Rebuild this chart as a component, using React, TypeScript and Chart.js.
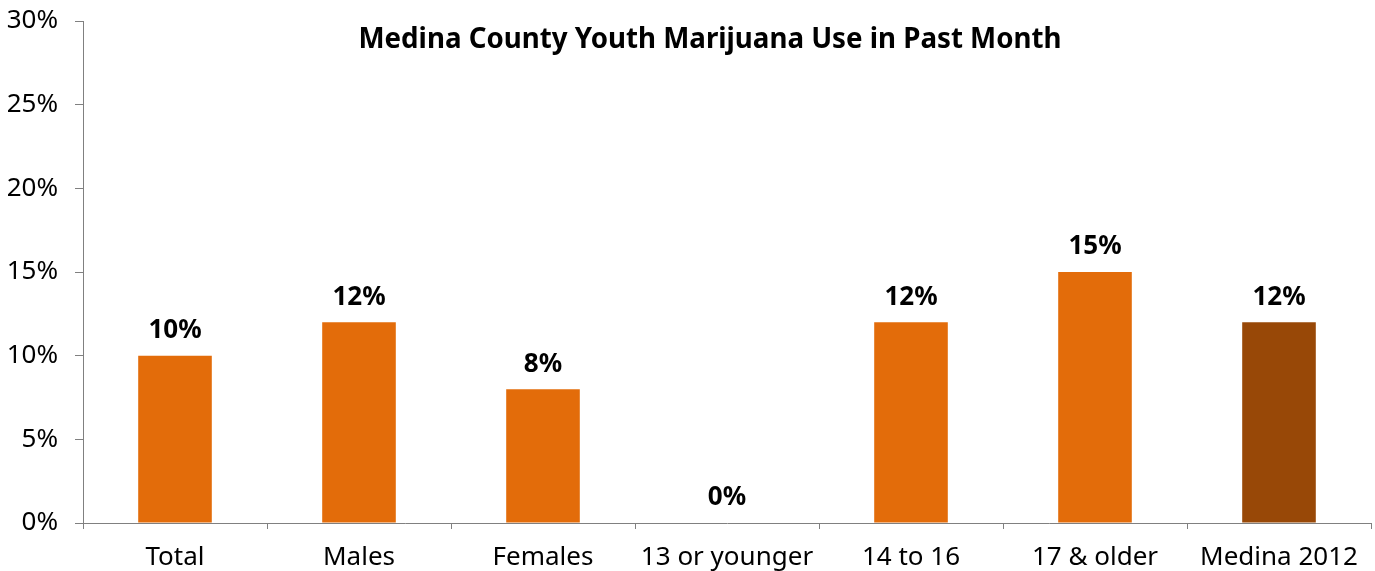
import React, { useEffect, useRef } from "react";
import { Chart, registerables } from "chart.js";

Chart.register(...registerables);

const categories = ["Total", "Males", "Females", "13 or younger", "14 to 16", "17 & older", "Medina 2012"];
const values = [10, 12, 8, 0, 12, 15, 12];
const barColors = ["#E36C0A", "#E36C0A", "#E36C0A", "#E36C0A", "#E36C0A", "#E36C0A", "#984807"];
const titleText = "Medina County Youth Marijuana Use in Past Month";
const FONT = "'Noto Sans', 'Open Sans', sans-serif";

const labelPlugin = {
  id: "valueLabels",
  afterDatasetsDraw(chart: any) {
    const ctx = chart.ctx;
    const meta = chart.getDatasetMeta(0);
    ctx.save();
    ctx.font = `bold 26px ${FONT}`;
    ctx.fillStyle = "#000";
    ctx.textAlign = "center";
    ctx.textBaseline = "middle";
    meta.data.forEach((bar: any, i: number) => {
      ctx.fillText(values[i] + "%", bar.x, bar.y - 25);
    });
    const ca = chart.chartArea;
    ctx.font = `bold 27.7px ${FONT}`;
    ctx.fillText(titleText, (ca.left + ca.right) / 2 - 17, 40);
    ctx.restore();
  },
};

export default function App() {
  const ref = useRef<HTMLCanvasElement>(null);
  useEffect(() => {
    if (!ref.current) return;
    const chart = new Chart(ref.current, {
      type: "bar",
      data: {
        labels: categories,
        datasets: [
          {
            data: values,
            backgroundColor: barColors,
            barPercentage: 0.4,
            categoryPercentage: 1,
          },
        ],
      },
      options: {
        animation: false,
        responsive: false,
        layout: { padding: { top: 21, right: 4, left: 0, bottom: 0 } },
        plugins: { legend: { display: false }, tooltip: { enabled: false }, title: { display: false } },
        scales: {
          x: {
            afterFit: (s: any) => { s.height = 48; s.paddingLeft = 0; s.paddingRight = 0; },
            grid: { display: true, drawOnChartArea: false, drawTicks: true, tickLength: 6, color: "#808080", offset: true },
            border: { display: true, color: "#808080", width: 1 },
            ticks: { font: { family: FONT, size: 26 }, color: "#000", padding: 13, maxRotation: 0, autoSkip: false },
          },
          y: {
            min: 0,
            max: 30,
            afterFit: (s: any) => { s.width = 83; s.paddingTop = 0; s.paddingBottom = 0; },
            grid: { display: true, drawOnChartArea: false, drawTicks: true, tickLength: 8, color: "#808080" },
            border: { display: true, color: "#808080", width: 1 },
            ticks: {
              stepSize: 5,
              font: { family: FONT, size: 26 },
              color: "#000",
              padding: 17,
              callback: (v: any) => v + "%",
            },
          },
        },
      },
      plugins: [labelPlugin],
    });
    return () => chart.destroy();
  }, []);
  return (
    <div style={{ position: "fixed", left: 0, top: 0, width: 1375, height: 571, background: "#fff" }}>
      <canvas ref={ref} width={1375} height={571} style={{ display: "block" }} />
    </div>
  );
}
